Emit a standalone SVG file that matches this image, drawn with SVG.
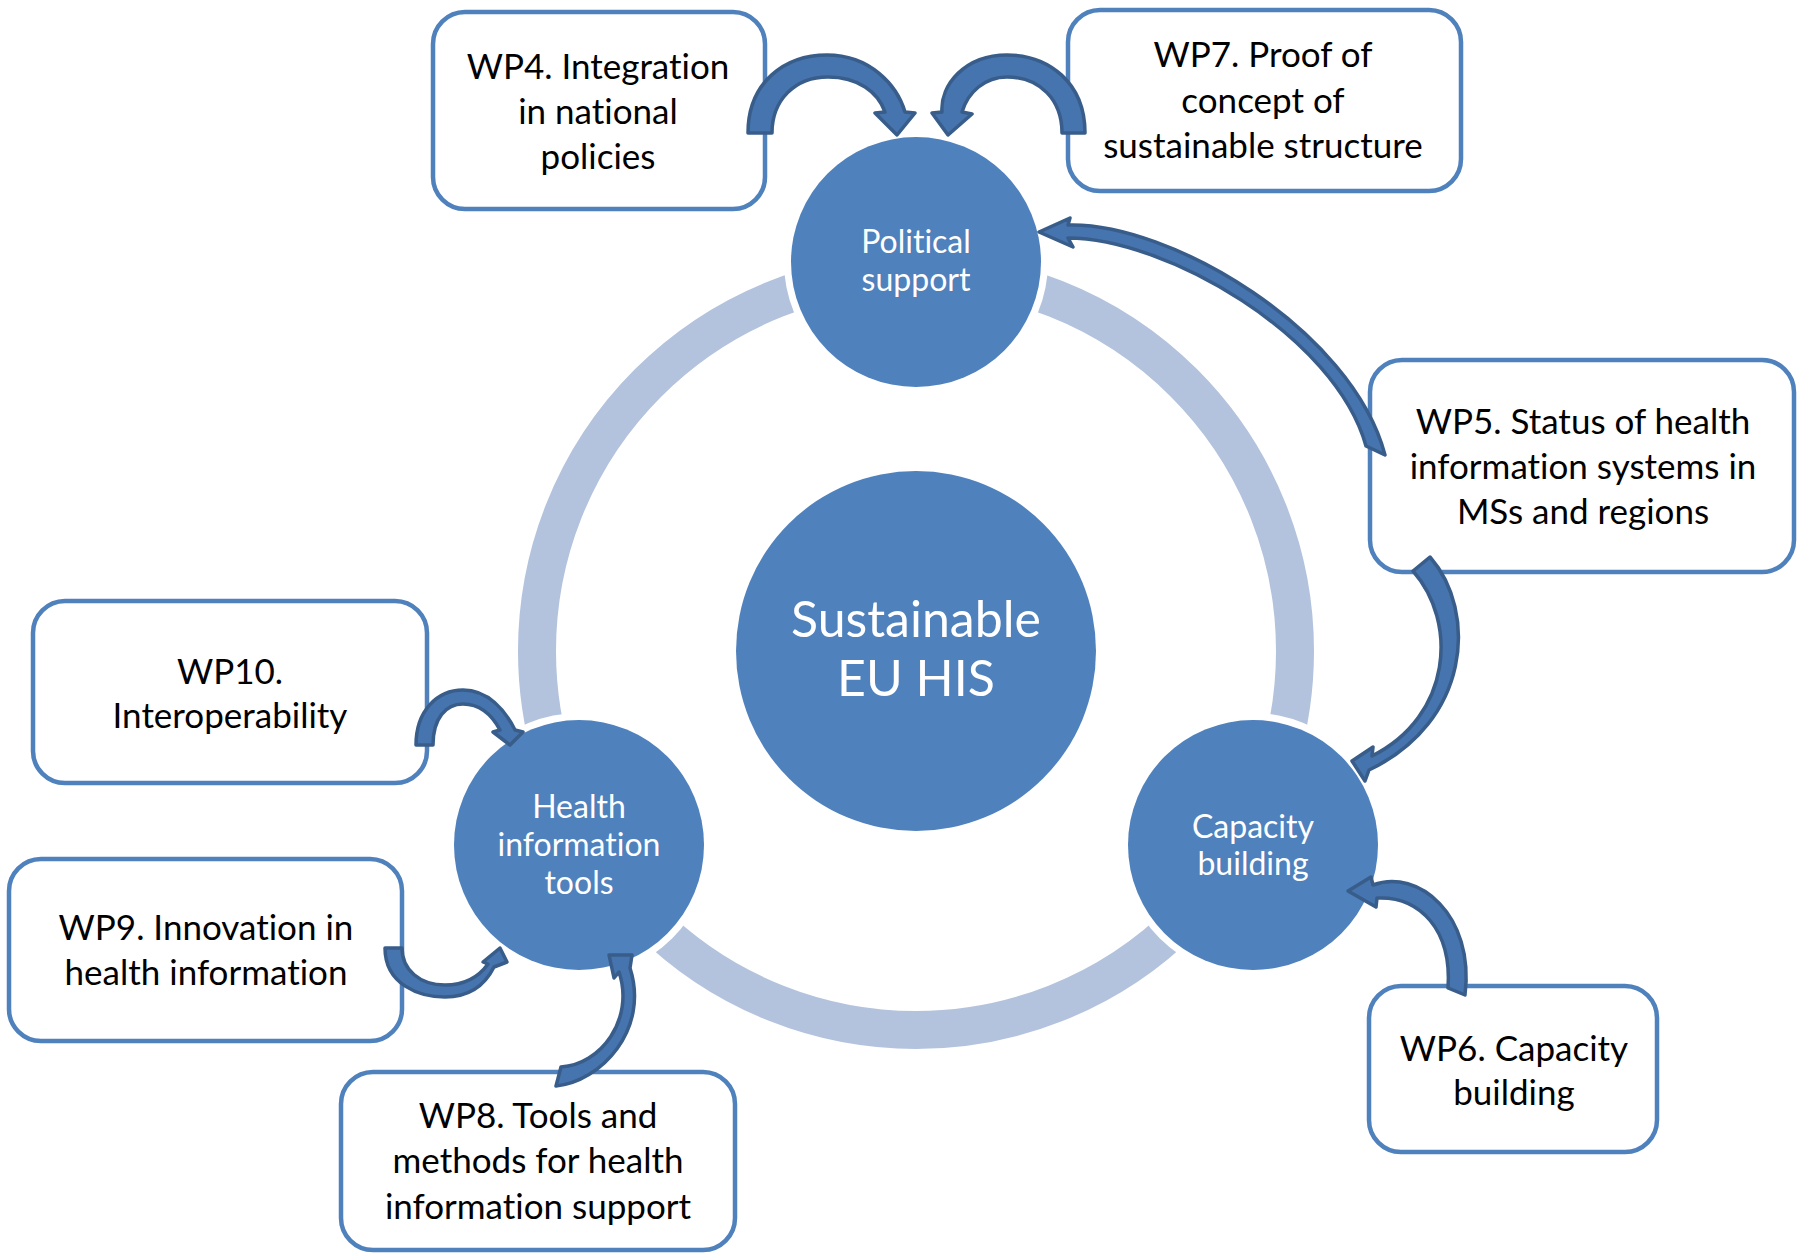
<svg xmlns="http://www.w3.org/2000/svg" width="1801" height="1253" viewBox="0 0 1801 1253">
<style>
.box{fill:#fff;stroke:#4F81BD;stroke-width:4.5}
.gap{fill:#fff}
.hub{fill:#4F81BD}
text{font-family:Lato,"Liberation Sans",sans-serif;text-anchor:middle;font-variant-ligatures:none;font-feature-settings:"liga" 0}
.bt{font-size:35px;fill:#000}
.ht{font-size:32px;fill:#fff}
.ct{font-size:50px;fill:#fff}
.arr{fill:#4674AE;stroke:#385D8A;stroke-width:3.5;stroke-linejoin:round}
</style>
<rect width="1801" height="1253" fill="#fff"/>
<circle cx="916" cy="651" r="379" fill="none" stroke="#B3C3DD" stroke-width="38"/>
<g id="center"><circle cx="916" cy="651" r="180" fill="#4F81BD"/><text class="ct" x="916" y="637">Sustainable</text><text class="ct" x="916" y="696">EU HIS</text></g>
<g id="political"><circle class="gap" cx="916" cy="262" r="132"/><circle class="hub" cx="916" cy="262" r="125"/><text class="ht" x="916" y="253">Political</text><text class="ht" x="916" y="291">support</text></g>
<g id="health"><circle class="gap" cx="579" cy="845" r="132"/><circle class="hub" cx="579" cy="845" r="125"/><text class="ht" x="579" y="818">Health</text><text class="ht" x="579" y="856">information</text><text class="ht" x="579" y="894">tools</text></g>
<g id="capacity"><circle class="gap" cx="1253" cy="845" r="132"/><circle class="hub" cx="1253" cy="845" r="125"/><text class="ht" x="1253" y="838">Capacity</text><text class="ht" x="1253" y="875">building</text></g>
<g id="wp4"><rect class="box" x="433" y="12" width="332" height="197" rx="32"/><text class="bt" x="598" y="79">WP4. Integration</text><text class="bt" x="598" y="124">in national</text><text class="bt" x="598" y="169">policies</text></g>
<g id="wp7"><rect class="box" x="1068" y="10" width="393" height="181" rx="32"/><text class="bt" x="1263" y="67">WP7. Proof of</text><text class="bt" x="1263" y="113">concept of</text><text class="bt" x="1263" y="158">sustainable structure</text></g>
<g id="wp5"><rect class="box" x="1370" y="360" width="424" height="212" rx="32"/><text class="bt" x="1583" y="434">WP5. Status of health</text><text class="bt" x="1583" y="479">information systems in</text><text class="bt" x="1583" y="524">MSs and regions</text></g>
<g id="wp10"><rect class="box" x="33" y="601" width="394" height="182" rx="32"/><text class="bt" x="230" y="684">WP10.</text><text class="bt" x="230" y="728">Interoperability</text></g>
<g id="wp9"><rect class="box" x="9" y="859" width="393" height="182" rx="32"/><text class="bt" x="206" y="940">WP9. Innovation in</text><text class="bt" x="206" y="985">health information</text></g>
<g id="wp8"><rect class="box" x="341" y="1072" width="394" height="178" rx="32"/><text class="bt" x="538" y="1128">WP8. Tools and</text><text class="bt" x="538" y="1173">methods for health</text><text class="bt" x="538" y="1219">information support</text></g>
<g id="wp6"><rect class="box" x="1369" y="986" width="288" height="166" rx="32"/><text class="bt" x="1514" y="1061">WP6. Capacity</text><text class="bt" x="1514" y="1105">building</text></g>
<g id="connectors">
<path class="arr" d="M748,133 C748,82 785,55 827,55 C870,55 897,85 905,112 L915,113 L897,135 L875,113 L885,112 C878,92 858,77 828,77 C795,77 772,100 772,133 Z"/>
<path class="arr" d="M1085,133 C1085,82 1048,55 1007,55 C965,55 940,85 942,112 L932,113 L948,135 L972,114 L962,112 C968,92 985,77 1007,77 C1040,77 1062,100 1062,133 Z"/>
<path class="arr" d="M1385,455 C1352,330 1170,222 1068,225 L1070,218 L1039,232 L1073,247 L1068,238 C1165,238 1335,335 1366,446 Z"/>
<path class="arr" d="M1430,557 C1478,612 1470,722 1369,770 L1365,781 L1352,761 L1373,747 L1372,756 C1452,716 1458,622 1413,571 Z"/>
<path class="arr" d="M1373,885 C1418,868 1475,915 1465,995 L1448,988 C1452,930 1420,896 1377,898 L1376,907 L1348,891 L1371,877 Z"/>
<path class="arr" d="M416,745 C416,710 438,690 463,690 C488,690 505,710 515,730 L523,732 L510,745 L493,732 L500,730 C492,715 480,704 463,704 C446,704 433,718 433,745 Z"/>
<path class="arr" d="M385,948 C385,985 420,997 445,997 C470,997 485,985 494,967 L507,962 L500,948 L483,962 L488,964 C478,978 465,985 445,985 C420,985 402,970 402,948 Z"/>
<path class="arr" d="M556,1086 C600,1082 650,1030 630,968 L632,955 L609,955 L614,978 L619,972 C635,1020 600,1065 561,1067 Z"/>
</g>
</svg>
